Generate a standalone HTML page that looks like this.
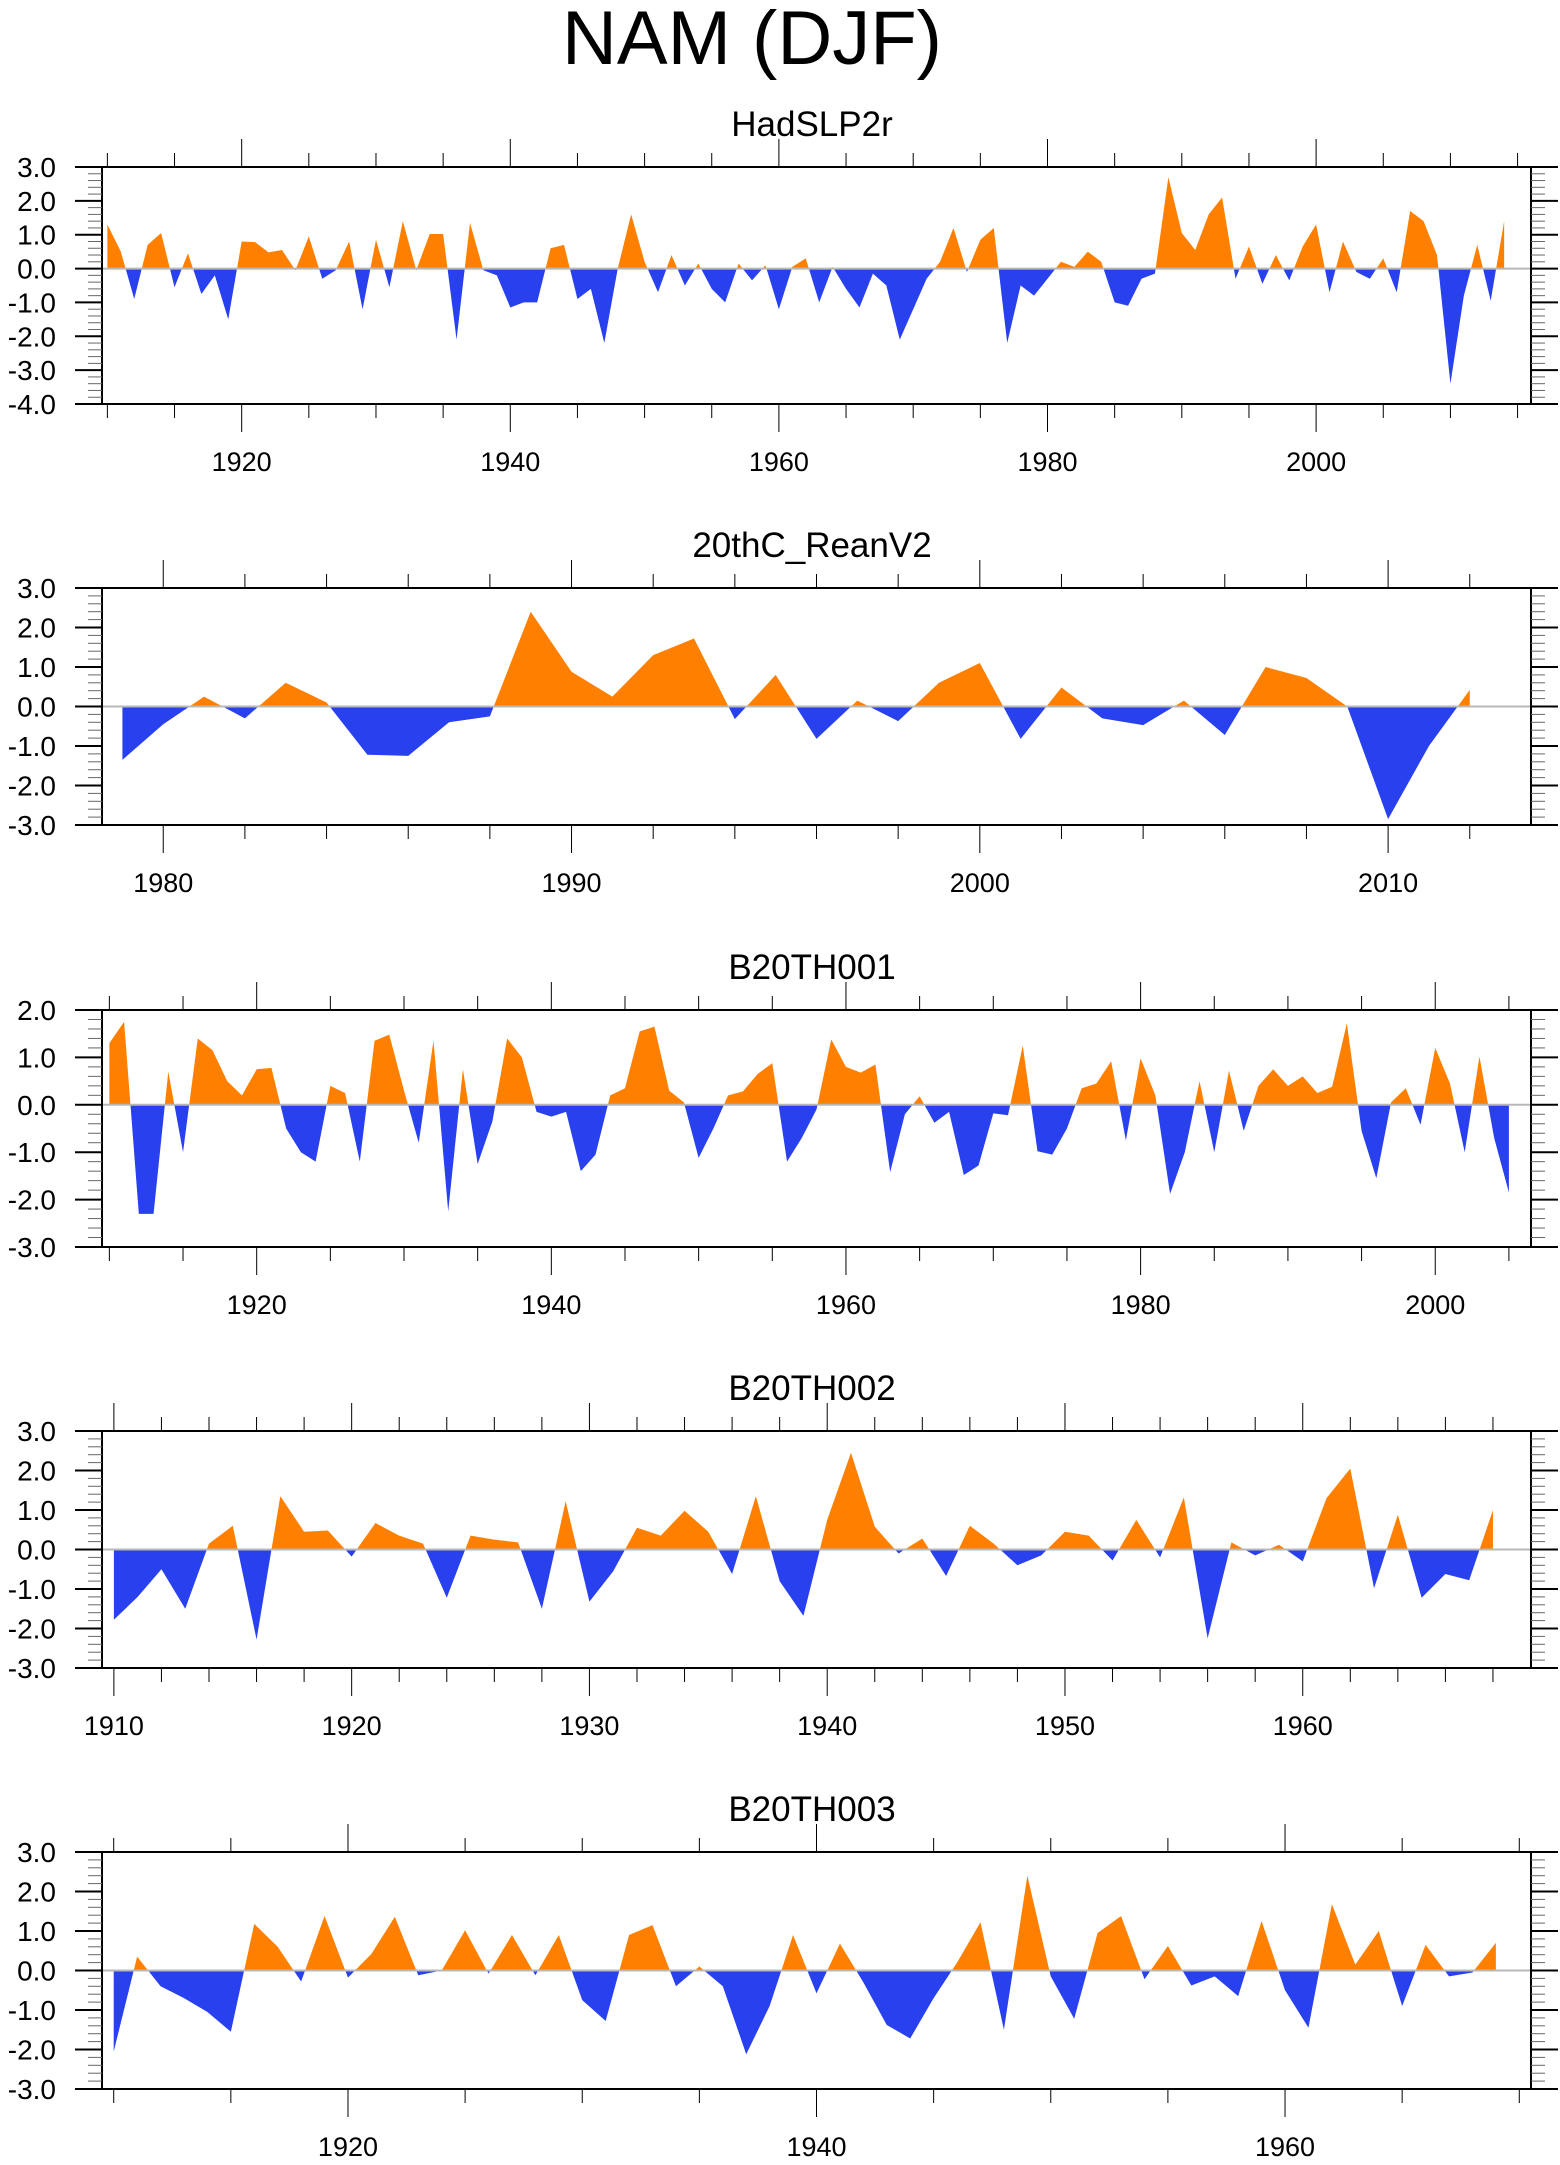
<!DOCTYPE html>
<html><head><meta charset="utf-8">
<style>
html,body{margin:0;padding:0;background:#fff;}
svg{display:block;font-family:"Liberation Sans",sans-serif;}
</style></head>
<body>
<svg id="chart" width="1560" height="2165" viewBox="0 0 1560 2165" xmlns="http://www.w3.org/2000/svg">
<text x="752" y="64" font-size="76" text-anchor="middle">NAM (DJF)</text>
</svg>
<script>
// ---- data ----
const hadYears0 = 1910;
const hadValues = [1.3,0.5,-0.9,0.7,1.05,-0.55,0.45,-0.75,-0.2,-1.5,
0.8,0.78,0.48,0.55,-0.05,0.95,-0.3,-0.05,0.8,-1.2,
0.85,-0.55,1.4,-0.05,1.02,1.02,-2.1,1.35,-0.05,-0.2,
-1.15,-1.0,-1.0,0.6,0.7,-0.9,-0.6,-2.2,0.0,1.6,
0.2,-0.7,0.4,-0.5,0.15,-0.6,-1.0,0.15,-0.35,0.1,
-1.2,0.05,0.3,-1.0,0.05,-0.6,-1.15,-0.15,-0.5,-2.1,
-1.2,-0.3,0.2,1.2,-0.1,0.85,1.2,-2.2,-0.5,-0.8,
-0.3,0.2,0.05,0.5,0.2,-1.0,-1.1,-0.3,-0.15,2.7,
1.05,0.55,1.6,2.1,-0.3,0.65,-0.45,0.4,-0.35,0.65,
1.3,-0.7,0.8,-0.1,-0.3,0.3,-0.7,1.7,1.4,0.4,
-3.4,-0.8,0.7,-0.95,1.4];
const reanYears0 = 1979;
const reanValues = [-1.35,-0.45,0.25,-0.3,0.6,0.1,-1.22,-1.25,-0.4,-0.25,
2.4,0.88,0.25,1.3,1.72,-0.32,0.8,-0.82,0.15,-0.37,
0.6,1.1,-0.82,0.48,-0.3,-0.47,0.15,-0.72,1.0,0.72,
0.0,-2.85,-1.0,0.42];
const b001Years0 = 1910;
const b001Values = [1.3,1.75,-2.3,-2.3,0.7,-1.0,1.4,1.15,0.5,0.2,
0.75,0.78,-0.5,-1.0,-1.2,0.4,0.25,-1.2,1.35,1.48,
0.3,-0.8,1.35,-2.25,0.75,-1.25,-0.35,1.4,1.0,-0.15,
-0.25,-0.15,-1.4,-1.05,0.2,0.35,1.55,1.65,0.3,0.05,
-1.12,-0.5,0.2,0.28,0.65,0.88,-1.2,-0.7,-0.1,1.38,
0.8,0.68,0.85,-1.42,-0.2,0.18,-0.38,-0.15,-1.48,-1.28,
-0.18,-0.22,1.25,-0.98,-1.05,-0.5,0.35,0.45,0.92,-0.75,
0.98,0.2,-1.88,-1.0,0.5,-1.0,0.72,-0.55,0.4,0.75,
0.4,0.6,0.25,0.38,1.72,-0.55,-1.55,0.05,0.35,-0.42,
1.2,0.45,-1.0,1.02,-0.7,-1.85];
const b002Years0 = 1910;
const b002Values = [-1.78,-1.2,-0.5,-1.5,0.15,0.6,-2.28,1.35,0.45,0.48,
-0.18,0.67,0.35,0.15,-1.22,0.35,0.25,0.18,-1.5,1.22,
-1.32,-0.55,0.55,0.35,0.98,0.45,-0.62,1.35,-0.8,-1.68,
0.75,2.45,0.58,-0.1,0.28,-0.67,0.6,0.15,-0.4,-0.15,
0.45,0.35,-0.28,0.75,-0.2,1.32,-2.25,0.18,-0.15,0.12,
-0.3,1.3,2.05,-0.98,0.88,-1.22,-0.62,-0.78,1.0];
const b003Years0 = 1910;
const b003Values = [-2.05,0.35,-0.4,-0.7,-1.05,-1.55,1.18,0.6,-0.28,1.38,
-0.18,0.42,1.36,-0.12,0.0,1.02,-0.08,0.9,-0.12,0.9,
-0.75,-1.28,0.9,1.15,-0.4,0.1,-0.4,-2.12,-0.9,0.9,
-0.58,0.68,-0.3,-1.38,-1.72,-0.7,0.2,1.22,-1.5,2.4,
-0.15,-1.22,0.95,1.38,-0.22,0.62,-0.38,-0.15,-0.65,1.25,
-0.5,-1.45,1.68,0.15,1.0,-0.9,0.65,-0.15,-0.05,0.7];
const panelTitles = ["HadSLP2r","20thC_ReanV2","B20TH001","B20TH002","B20TH003"];
const yRanges = [[-4,3],[-3,3],[-3,2],[-3,3],[-3,3]];
const xRanges = [[1909.6,2016.0],[1978.5,2013.5],[1909.5,2006.5],[1909.5,1969.6],[1909.5,1970.5]];
const majorSteps = [20,10,20,10,20];
const minorSteps = [5,2,5,2,5];
const yTickLabels = [["-4.0","-3.0","-2.0","-1.0","0.0","1.0","2.0","3.0"],["-3.0","-2.0","-1.0","0.0","1.0","2.0","3.0"],["-3.0","-2.0","-1.0","0.0","1.0","2.0"],["-3.0","-2.0","-1.0","0.0","1.0","2.0","3.0"],["-3.0","-2.0","-1.0","0.0","1.0","2.0","3.0"]];

// ---- layout ----
const panelTops = [167,588,1010,1431,1852];
const L=102,R=1531,H=237;
const NS="http://www.w3.org/2000/svg";
const svg=document.getElementById('chart');
function mk(tag,attrs,parent){const e=document.createElementNS(NS,tag);for(const k in attrs)e.setAttribute(k,attrs[k]);(parent||svg).appendChild(e);return e;}

const series=[[hadYears0,hadValues],[reanYears0,reanValues],[b001Years0,b001Values],[b002Years0,b002Values],[b003Years0,b003Values]];

series.forEach(([y0,vals],p)=>{
  const top=panelTops[p],bot=top+H;
  const [ymin,ymax]=yRanges[p],[xmin,xmax]=xRanges[p];
  const xs=v=>L+(v-xmin)/(xmax-xmin)*(R-L);
  const ys=v=>bot-(v-ymin)/(ymax-ymin)*H;
  const g=mk('g',{});
  
  
  const t=mk('text',{x:812,y:top-31,'font-size':35,'text-anchor':'middle'},g);
  t.textContent=panelTitles[p];
  
  
  const z=ys(0);
  let d='M'+xs(y0)+','+z;
  vals.forEach((v,i)=>{d+=' L'+xs(y0+i).toFixed(2)+','+ys(v).toFixed(2);});
  d+=' L'+xs(y0+vals.length-1).toFixed(2)+','+z+' Z';
  const cid='c'+p;
  const defs=mk('defs',{},g);
  const cpA=mk('clipPath',{id:cid+'a'},defs);mk('rect',{x:L,y:top,width:R-L,height:z-top},cpA);
  const cpB=mk('clipPath',{id:cid+'b'},defs);mk('rect',{x:L,y:z,width:R-L,height:bot-z},cpB);
  const pa=mk('path',{d:d,fill:'#ff8000','clip-path':'url(#'+cid+'a)'},g);
  
  
  const pb=mk('path',{d:d,fill:'#2840ee','clip-path':'url(#'+cid+'b)'},g);
  
  
  const zl=mk('line',{x1:L,x2:R,y1:z,y2:z,stroke:'#b8b8b8','stroke-width':2},g);
  
  
  const fr=mk('rect',{x:L,y:top,width:R-L,height:H,fill:'none',stroke:'#000','stroke-width':2},g);
  
  
  for(let k=Math.round(ymin*5);k<=Math.round(ymax*5);k++){
    const v=k/5,yy=ys(v),maj=(k%5===0);
    const len=maj?27:14;
    mk('line',{x1:L-len,x2:L,y1:yy,y2:yy,stroke:maj?'#000':'#666','stroke-width':maj?2:1},g);
    mk('line',{x1:R,x2:R+len,y1:yy,y2:yy,stroke:maj?'#000':'#666','stroke-width':maj?2:1},g);
  }
  yTickLabels[p].forEach(lbl=>{
    const tl=mk('text',{x:56,y:ys(parseFloat(lbl))+10,'font-size':28,'text-anchor':'end'},g);
    tl.textContent=lbl;
    
    
  });
  const ms=minorSteps[p],Ms=majorSteps[p];
  for(let yr=Math.ceil(xmin/ms)*ms;yr<=xmax;yr+=ms){
    const xx=xs(yr),maj=(yr%Ms===0),len=maj?28:14;
    mk('line',{x1:xx,x2:xx,y1:top-len,y2:top,stroke:'#000','stroke-width':1},g);
    mk('line',{x1:xx,x2:xx,y1:bot,y2:bot+len,stroke:'#000','stroke-width':1},g);
    if(maj){
      const xl=mk('text',{x:xx,y:bot+67,'font-size':27,'text-anchor':'middle'},g);
      xl.textContent=String(yr);
      
      
    }
  }
});
</script>
</body></html>
